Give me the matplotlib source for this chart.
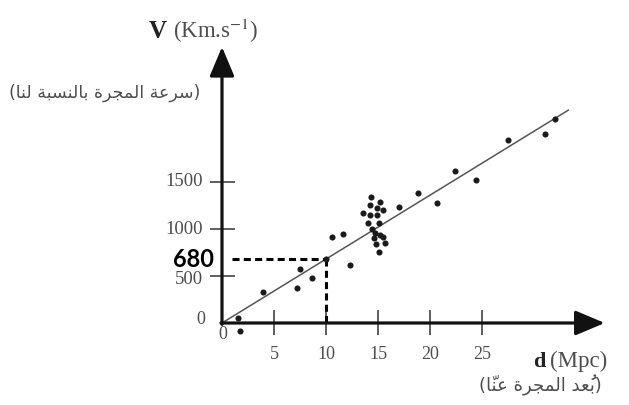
import numpy as np
import matplotlib
matplotlib.use('Agg')
import matplotlib.pyplot as plt
from matplotlib.transforms import offset_copy

plt.rcParams['mathtext.fontset'] = 'stix'

# galaxies: distance (Mpc) and recession velocity (km/s)
d_gal = [1.57, 1.73, 3.97, 7.18, 7.5, 8.68, 10.0, 10.55, 11.6, 12.3,
         14.33, 15.19, 14.23, 14.93, 13.59, 15.51, 14.23, 14.93, 14.07,
         15.13, 14.39, 14.71, 15.19, 14.62, 15.51, 14.81, 15.67, 15.10,
         17.0, 18.8, 20.7, 22.45, 24.4, 27.5, 31.1, 32.0]
v_gal = [50, -85, 327, 376, 575, 482, 680, 920, 942, 612,
         1337, 1284, 1255, 1227, 1173, 1202, 1149, 1152, 1067,
         1061, 997, 954, 936, 901, 918, 837, 854, 759,
         1237, 1380, 1280, 1620, 1522, 1947, 2008, 2171]

H0 = 68.0          # slope of the fit line
d_fit_max = 33.3
v_read = 680       # read-off value
d_read = 10

xticks = [5, 10, 15, 20, 25]
yticks = [500, 1000, 1500]

label_v_ar = 'سرعة المجرة بالنسبة لنا'
label_d_ar = 'بُعد المجرة عنّا'

# simple arabic shaping (presentation forms) + right-to-left ordering
FORMS = {
    'ا': (0xFE8D, 0xFE8E, None, None),
    'ب': (0xFE8F, 0xFE90, 0xFE91, 0xFE92),
    'ة': (0xFE93, 0xFE94, None, None),
    'ت': (0xFE95, 0xFE96, 0xFE97, 0xFE98),
    'ج': (0xFE9D, 0xFE9E, 0xFE9F, 0xFEA0),
    'د': (0xFEA9, 0xFEAA, None, None),
    'ر': (0xFEAD, 0xFEAE, None, None),
    'س': (0xFEB1, 0xFEB2, 0xFEB3, 0xFEB4),
    'ع': (0xFEC9, 0xFECA, 0xFECB, 0xFECC),
    'ل': (0xFEDD, 0xFEDE, 0xFEDF, 0xFEE0),
    'م': (0xFEE1, 0xFEE2, 0xFEE3, 0xFEE4),
    'ن': (0xFEE5, 0xFEE6, 0xFEE7, 0xFEE8),
}

def is_mark(c):
    return '\u064B' <= c <= '\u0652'

def shape(s):
    out = []
    for i, c in enumerate(s):
        if c not in FORMS:
            out.append(c)
            continue
        j = i - 1
        while j >= 0 and is_mark(s[j]):
            j -= 1
        k = i + 1
        while k < len(s) and is_mark(s[k]):
            k += 1
        pj = j >= 0 and s[j] in FORMS and FORMS[s[j]][2] is not None
        nj = FORMS[c][2] is not None and k < len(s) and s[k] in FORMS
        f = FORMS[c]
        if pj and nj:
            g = f[3]
        elif pj:
            g = f[1]
        elif nj:
            g = f[2]
        else:
            g = f[0]
        out.append(chr(g))
    # reversed for left-to-right drawing (marks end up just before their letter)
    return '(' + ''.join(reversed(out)) + ')'

W, H = 629, 405
fig = plt.figure(figsize=(W/100, H/100), dpi=100)
ax = fig.add_axes([0, 0, 1, 1])
# pixel mapping: origin at (222, 323), 10.4 px per Mpc, 0.094 px per km/s
sx, sy = 10.4, 0.094
ax.set_xlim(-222/sx, (W-222)/sx)
ax.set_ylim(-(H-323)/sy, 323/sy)
ax.axis('off')

grey = '#4d4d4d'

# axes with arrows
ap = dict(arrowstyle='-|>,head_length=0.9,head_width=0.38', mutation_scale=20,
          lw=2.3, color='#111111', shrinkA=0, shrinkB=0)
ax.annotate('', xy=(36.8, 0), xytext=(-0.1, 0), arrowprops=ap)
ax.annotate('', xy=(0, 2937), xytext=(0, -15), arrowprops=ap)

# tick marks
ax.vlines(xticks, -130, 140, color='#333333', lw=1.1)
ax.hlines(yticks, -1.15, 1.25, color='#333333', lw=1.1)

# fit line
dd = np.array([0, d_fit_max])
ax.plot(dd, H0*dd, color='#555555', lw=1.1)

# dashed read-off
ax.plot([1.0, d_read], [v_read, v_read], color='k', lw=2.2, ls=(0, (2.3, 1.4)))
ax.plot([d_read, d_read], [v_read, 0], color='k', lw=2.2, ls=(0, (2.3, 1.4)))

# galaxies
ax.plot(d_gal, v_gal, 'o', color='#1a1a1a', ms=4.4, mec='none')

# tick labels
serif = 'Liberation Serif'
for t in xticks:
    ax.text(t, -330, str(t), ha='center', va='center', fontsize=13,
            family=serif, color=grey)
for t, dy in zip(yticks, [-4, -1, 0]):
    tr = offset_copy(ax.transData, fig=fig, x=0, y=dy*0.72, units='points')
    ax.text(-1.8, t, str(t), ha='right', va='center', fontsize=13.5,
            family=serif, color=grey, transform=tr)
ax.text(0.1, -125, '0', ha='center', va='center', fontsize=13, family=serif, color=grey)
ax.text(-1.6, 40, '0', ha='right', va='center', fontsize=13, family=serif, color=grey)
ax.text(-0.75, v_read, str(v_read), ha='right', va='center', fontsize=17,
        family='Lato', weight='bold', color='k')

# axis titles
fig.text(149/W, 1-38/H, 'V', fontsize=18, family=serif, weight='bold',
         color='#222222', ha='left', va='baseline')
fig.text(173/W, 1-38/H, '(Km.s$^{-1}$)', fontsize=16.5, family=serif,
         color=grey, ha='left', va='baseline')
fig.text(200/W, 1-93/H, shape(label_v_ar), fontsize=12.5, family='DejaVu Sans',
         color=grey, ha='right', va='center')

fig.text(533/W, 1-367/H, 'd', fontsize=16, family=serif, weight='bold',
         color='#222222', ha='left', va='baseline')
fig.text(550/W, 1-367/H, '(Mpc)', fontsize=16.5, family=serif,
         color=grey, ha='left', va='baseline')
fig.text(602/W, 1-385/H, shape(label_d_ar), fontsize=13, family='DejaVu Sans',
         color=grey, ha='right', va='center')

fig.savefig('out.png', dpi=100)
